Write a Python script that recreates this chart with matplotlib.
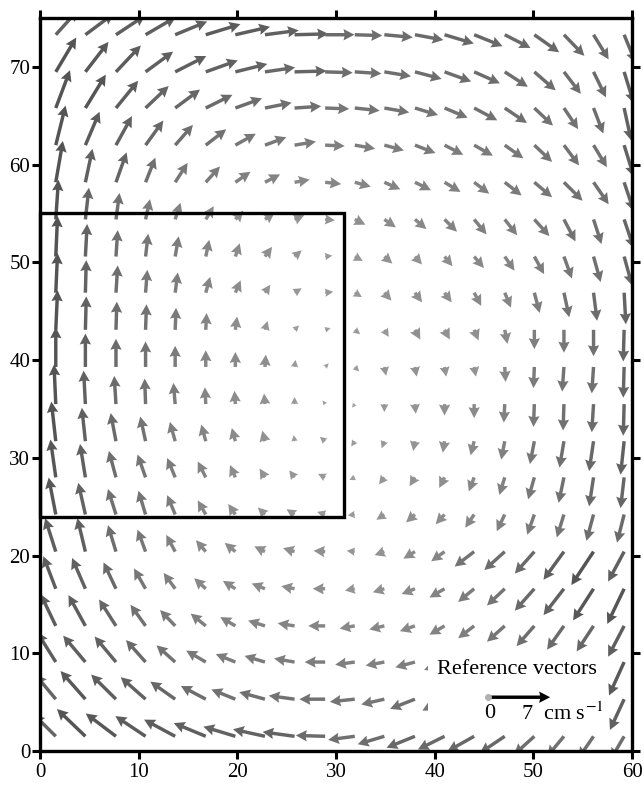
import numpy as np
import matplotlib
matplotlib.use("Agg")
import matplotlib.pyplot as plt
from matplotlib.patches import Rectangle

plt.rcParams['font.family'] = ['Liberation Serif', 'DejaVu Serif']
plt.rcParams['mathtext.fontset'] = 'stix'

# Grid positions (km) of the current-meter vectors (arrow tails)
x_grid = [1.6, 4.6, 7.7, 10.7, 13.7, 16.8, 19.8, 22.8, 25.8, 28.9,
          31.9, 34.9, 38.0, 41.0, 44.0, 47.1, 50.1, 53.1, 56.1, 59.2]
y_grid = [1.5, 5.3, 9.1, 12.8, 16.6, 20.4, 24.2, 28.0, 31.7, 35.5,
          39.3, 43.1, 46.9, 50.6, 54.4, 58.2, 62.0, 65.8, 69.5, 73.3]

nan = np.nan
# Eastward velocity (cm/s), one row per y_grid value (south to north)
u_rows = [
    [-2.5, -3.2, -3.4, -3.4, -3.5, -3.6, -3.6, -3.6, -3.6, -3.3, -3.0, -3.0, -3.2, -3.0, -3.0, -2.8, -2.3, -1.9, -1.7, -1.5],
    [-2.3, -2.8, -2.8, -2.8, -2.8, -2.8, -2.7, -2.9, -2.9, -2.9, -2.8, -2.6, -2.8, -2.5, nan, nan, nan, nan, nan, -1.6],
    [-2.1, -2.5, -2.4, -2.2, -2.1, -2.2, -2.2, -2.3, -2.3, -2.3, -2.2, -2.1, -2.2, -2.3, nan, nan, nan, nan, nan, -1.7],
    [-1.7, -1.9, -1.9, -1.7, -1.7, -1.7, -1.7, -1.9, -1.9, -1.9, -1.7, -1.7, -1.7, -1.7, -1.8, -2.0, -2.0, -1.9, -1.9, -1.8],
    [-1.4, -1.5, -1.4, -1.3, -1.3, -1.3, -1.4, -1.5, -1.5, -1.4, -1.1, -1.3, -1.5, -1.7, -1.8, -2.0, -2.2, -2.3, -2.3, -1.9],
    [-1.2, -0.9, -0.9, -0.9, -1.0, -1.1, -1.2, -1.2, -1.3, -1.3, -0.9, -1.1, -1.3, -1.5, -2.2, -2.3, -2.2, -2.3, -2.5, -1.8],
    [-0.8, -0.8, -0.9, -0.8, -0.9, -0.9, -0.8, -0.8, -0.9, -0.9, -0.8, -0.9, -1.0, -1.0, -1.0, -0.9, -0.8, -0.8, -0.8, -0.8],
    [-0.6, -0.6, -0.8, -0.9, -0.9, -0.9, -0.6, -0.6, -0.6, -0.8, -0.6, -0.6, -0.6, -0.6, -0.6, -0.6, -0.7, -0.6, -0.5, -0.4],
    [-0.5, -0.4, -0.6, -0.6, -0.6, -0.5, -0.4, -0.3, -0.1, -0.6, -0.4, -0.3, -0.2, -0.2, -0.4, -0.4, -0.5, -0.5, -0.5, -0.4],
    [-0.2, -0.2, -0.2, -0.1, -0.2, -0.1, -0.1, -0.1, 0.0, -0.3, -0.3, 0.0, 0.1, 0.0, 0.0, -0.1, -0.1, -0.1, -0.2, -0.1],
    [0.0, 0.0, 0.0, 0.0, 0.0, 0.0, 0.0, 0.1, 0.1, 0.4, 0.5, 0.2, 0.2, 0.2, 0.2, 0.1, -0.1, -0.2, -0.2, -0.1],
    [0.2, 0.1, 0.1, 0.1, 0.1, 0.1, 0.2, 0.3, 0.5, 0.6, 0.6, 0.5, 0.6, 0.6, 0.5, 0.3, 0.0, 0.0, 0.0, -0.1],
    [0.2, 0.1, 0.2, 0.2, 0.3, 0.5, 0.6, 0.6, 0.8, 0.9, 0.8, 0.8, 0.8, 0.8, 0.8, 0.7, 0.6, 0.6, 0.4, 0.2],
    [0.2, 0.2, 0.2, 0.3, 0.4, 0.4, 0.5, 0.8, 0.8, 0.8, 0.9, 0.9, 0.8, 0.9, 1.1, 1.1, 1.1, 0.9, 0.8, 0.9],
    [0.3, 0.4, 0.4, 0.5, 0.6, 0.9, 0.9, 1.1, 1.1, 1.1, 1.2, 1.3, 1.3, 1.4, 1.4, 1.4, 1.7, 1.3, 0.9, 1.1],
    [0.8, 0.8, 1.2, 1.1, 1.4, 1.6, 1.7, 1.7, 1.7, 1.8, 1.8, 1.8, 1.8, 1.8, 1.7, 1.9, 2.0, 2.1, 1.7, 1.1],
    [1.1, 1.6, 1.8, 2.0, 2.0, 2.3, 2.3, 2.4, 2.4, 2.2, 2.3, 2.2, 2.3, 2.1, 2.1, 2.1, 2.0, 1.7, 1.5, 1.1],
    [1.6, 2.3, 2.5, 2.6, 2.8, 3.0, 3.0, 3.0, 3.0, 2.7, 2.8, 2.8, 2.6, 2.6, 2.6, 2.5, 2.1, 1.6, 1.1, 0.8],
    [2.3, 2.6, 2.8, 3.1, 3.5, 3.6, 3.6, 3.4, 3.6, 3.1, 3.0, 3.0, 3.0, 3.0, 2.9, 2.6, 2.4, 1.9, 1.4, 1.1],
    [2.5, 3.2, 3.3, 3.4, 3.6, 3.9, 3.9, 3.8, 3.8, 3.3, 3.1, 3.2, 3.2, 3.3, 3.2, 2.9, 2.8, 2.3, 1.7, 1.3],
]
# Northward velocity (cm/s), same layout
v_rows = [
    [2.5, 3.1, 2.6, 2.3, 1.9, 1.5, 1.1, 0.8, 0.5, 0.1, -0.4, -0.9, -1.3, -1.5, -1.7, -1.9, -2.1, -2.3, -2.5, -2.6],
    [2.8, 3.2, 2.8, 2.5, 2.0, 1.5, 1.1, 0.8, 0.4, 0.0, -0.3, -0.6, -1.1, -1.3, nan, nan, nan, nan, nan, -3.5],
    [3.4, 3.0, 2.9, 2.5, 1.9, 1.3, 0.9, 0.7, 0.4, 0.0, -0.3, -0.4, -0.6, -0.9, nan, nan, nan, nan, nan, -3.8],
    [3.6, 3.5, 3.0, 2.4, 1.8, 1.4, 1.0, 0.6, 0.3, 0.0, -0.3, -0.4, -0.6, -1.0, -1.4, -1.8, -2.3, -2.7, -2.9, -3.5],
    [3.7, 3.5, 3.0, 2.3, 1.8, 1.2, 0.9, 0.6, 0.3, 0.0, -0.2, -0.4, -0.6, -1.0, -1.5, -1.9, -2.5, -3.0, -3.6, -4.0],
    [3.8, 3.8, 3.0, 2.5, 1.9, 1.3, 1.0, 0.6, 0.4, 0.1, 0.1, -0.4, -0.8, -1.1, -1.7, -2.1, -2.5, -3.2, -3.8, -3.4],
    [4.2, 3.6, 2.9, 2.7, 2.2, 1.6, 1.2, 0.8, 0.6, 0.3, -0.1, -0.6, -0.9, -1.1, -1.5, -1.9, -2.3, -2.6, -3.0, -3.2],
    [4.3, 3.8, 3.0, 2.6, 2.2, 1.8, 1.4, 1.0, 0.8, 0.4, -0.3, -0.8, -1.0, -1.2, -1.6, -2.0, -2.5, -2.9, -3.3, -3.5],
    [4.5, 3.8, 3.2, 2.8, 2.2, 1.9, 1.5, 1.2, 0.7, 0.5, -0.6, -0.8, -1.1, -1.3, -1.6, -2.1, -2.6, -3.0, -3.4, -3.8],
    [4.5, 3.8, 3.2, 2.9, 2.4, 1.9, 1.5, 1.2, 0.8, 0.4, -0.4, -0.9, -1.1, -1.3, -1.6, -2.1, -2.6, -3.0, -3.2, -3.6],
    [4.5, 3.8, 3.2, 2.9, 2.4, 1.9, 1.7, 1.4, 0.8, 0.4, -0.5, -1.0, -1.1, -1.1, -1.1, -1.7, -2.4, -2.8, -3.0, -3.5],
    [4.5, 3.8, 3.2, 2.9, 2.5, 1.9, 1.5, 1.0, 0.5, 0.2, -0.5, -0.8, -1.1, -1.1, -1.2, -1.6, -2.2, -2.6, -3.0, -3.6],
    [4.5, 3.7, 3.1, 2.6, 2.3, 1.8, 1.4, 0.9, 0.5, 0.1, -0.5, -0.9, -1.1, -1.1, -1.5, -1.7, -2.3, -2.8, -3.2, -3.6],
    [4.6, 3.7, 3.0, 2.6, 2.3, 1.9, 1.5, 1.1, 0.7, 0.1, -0.5, -0.8, -0.9, -1.1, -1.3, -1.6, -2.0, -2.5, -2.9, -3.3],
    [4.5, 3.6, 3.0, 2.3, 1.9, 1.5, 1.0, 0.8, 0.5, -0.1, -0.6, -0.9, -1.1, -1.4, -1.7, -1.8, -1.9, -2.5, -2.8, -3.3],
    [4.7, 3.8, 3.4, 2.8, 2.2, 1.8, 1.2, 0.9, 0.3, -0.2, -0.5, -0.8, -0.9, -1.1, -1.3, -1.5, -1.7, -2.1, -2.5, -3.3],
    [4.5, 3.8, 3.3, 2.8, 2.3, 1.8, 1.3, 0.9, 0.4, -0.1, -0.4, -0.6, -0.9, -1.1, -1.2, -1.5, -1.9, -2.3, -2.5, -3.6],
    [4.3, 3.8, 3.1, 2.5, 2.1, 1.5, 1.1, 0.6, 0.2, -0.1, -0.3, -0.5, -0.8, -1.1, -1.4, -1.7, -2.0, -2.4, -2.9, -3.7],
    [3.9, 3.4, 3.0, 2.3, 1.8, 1.3, 0.9, 0.5, 0.1, -0.1, -0.2, -0.5, -0.8, -1.1, -1.3, -1.7, -2.1, -2.5, -2.9, -3.6],
    [2.8, 2.4, 2.2, 2.0, 1.5, 1.2, 0.9, 0.5, 0.1, 0.0, -0.1, -0.3, -0.6, -1.0, -1.3, -1.5, -2.0, -2.4, -2.8, -3.2],
]

ref_speed = 7.0           # reference vector, cm/s
inner_box = (0.0, 23.9, 30.8, 55.1)   # x0, y0, x1, y1 of the study sub-domain
length_per_cms = 0.9       # arrow length (km) per cm/s

X, Y = np.meshgrid(np.array(x_grid), np.array(y_grid))
U = np.ma.masked_invalid(np.array(u_rows))
V = np.ma.masked_invalid(np.array(v_rows))
speed = np.sqrt(U**2 + V**2)

# darker grey for faster currents
grey = 0.66 - 0.33 * np.clip(speed.filled(0) / 4.5, 0, 1)
colors = [(g, g, g) for g in grey.ravel()]

arrow_style = dict(angles='xy', scale_units='xy', scale=1.0 / length_per_cms,
                   width=0.0058, headwidth=3.3, headlength=3.2,
                   headaxislength=2.9, minlength=0.6)

fig = plt.figure(figsize=(6.44, 7.88), dpi=100)
ax = fig.add_axes([0.0621, 0.047, 0.9193, 0.930])

ax.quiver(X, Y, U, V, color=colors, zorder=2, **arrow_style)

ax.set_xlim(0, 60)
ax.set_ylim(0, 75)

x0, y0, x1, y1 = inner_box
ax.add_patch(Rectangle((x0, y0), x1 - x0, y1 - y0, fill=False,
                       edgecolor='black', linewidth=2.4, zorder=3, clip_on=False))

# legend panel with the reference vector
ax.add_patch(Rectangle((39.3, 2.0), 17.9, 8.0, facecolor='white',
                       edgecolor='none', zorder=4))
ax.text(48.3, 8.3, 'Reference vectors', ha='center', va='center',
        fontsize=16, zorder=5)
ref_x, ref_y = 45.4, 5.5
ax.quiver([ref_x], [ref_y], [ref_speed], [0.0], color='black', zorder=6,
          **arrow_style)
ax.plot([ref_x], [ref_y], 'o', color='#b0b0b0', markersize=4, zorder=7)
ax.text(ref_x + 0.2, 3.8, '0', ha='center', va='center', fontsize=16, zorder=5)
ax.text(48.7, 3.8, r'7  cm s$^{-1}$', ha='left', va='center', fontsize=16, zorder=5)

ax.set_xticks(np.arange(0, 61, 10))
ax.set_yticks(np.arange(0, 71, 10))
for side in ['left', 'right', 'top', 'bottom']:
    ax.spines[side].set_linewidth(2.4)
ax.tick_params(direction='out', length=6, width=2.2, labelsize=15,
               top=True, right=True, labeltop=False, labelright=False)
ax.tick_params(axis='y', pad=1)
ax.tick_params(axis='x', pad=3)

fig.savefig('out.png', dpi=100)
